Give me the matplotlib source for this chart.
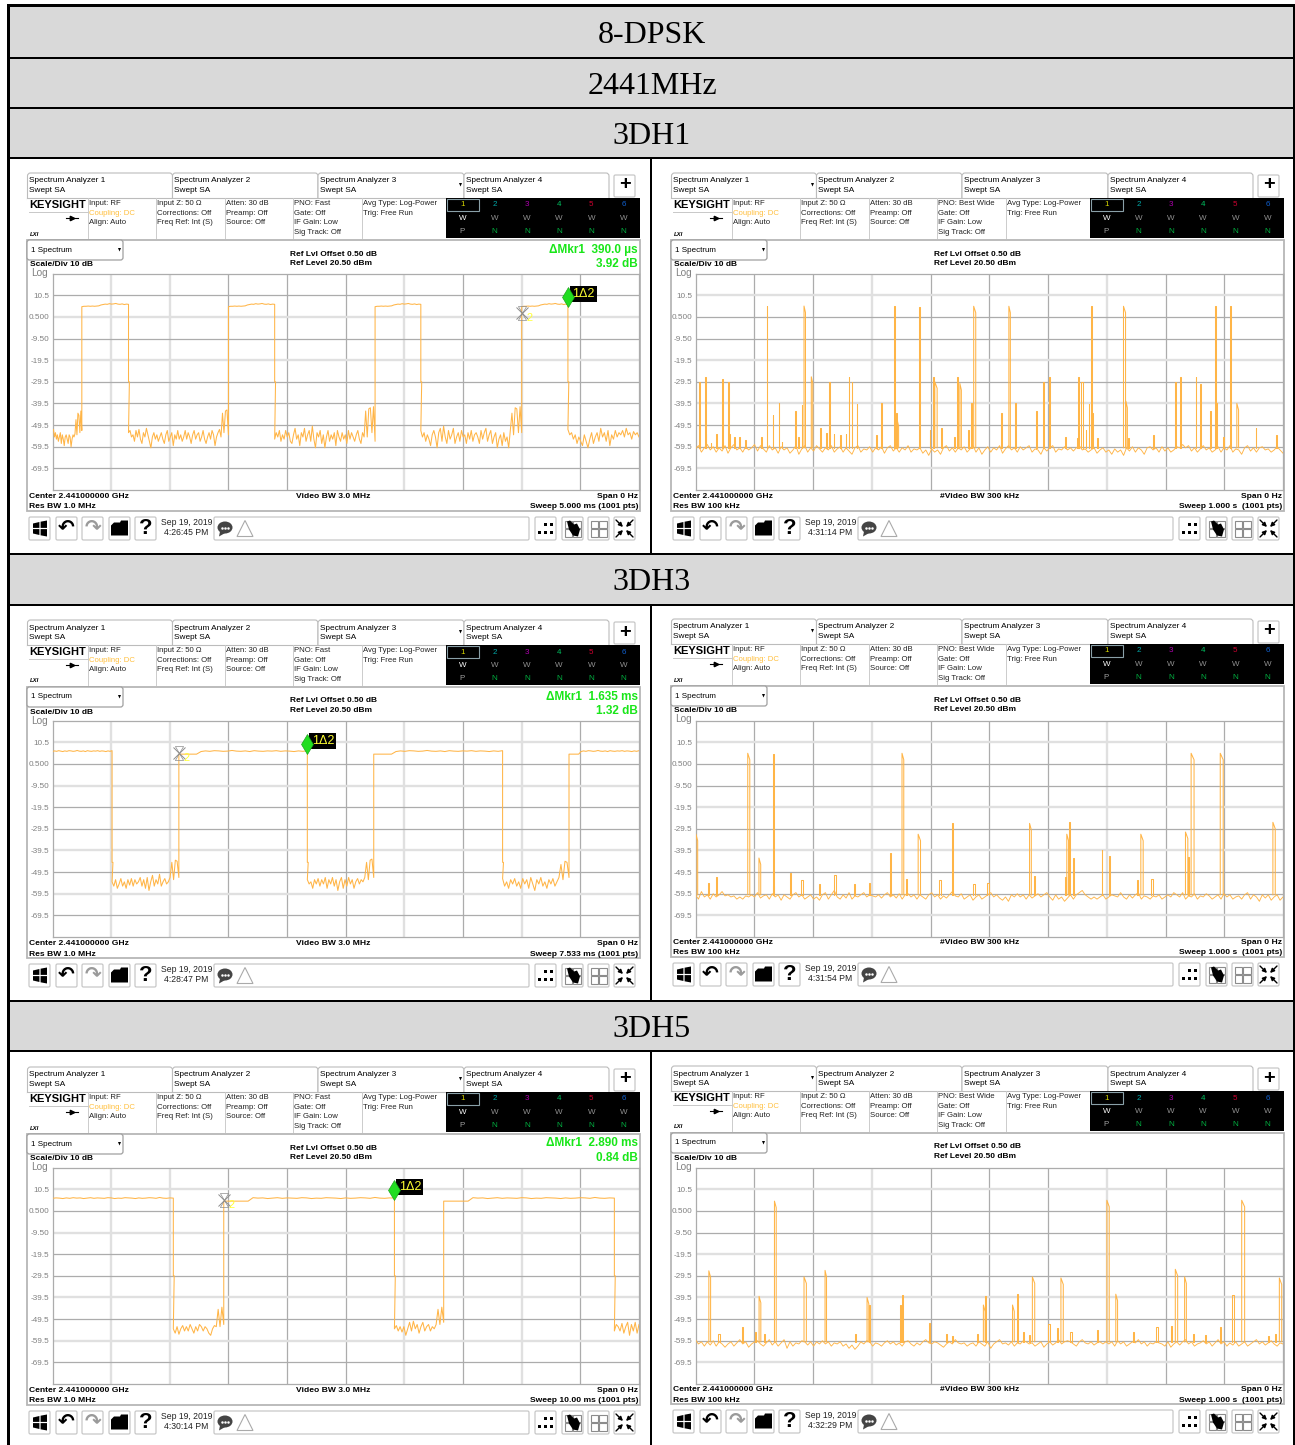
import numpy as np
import matplotlib
matplotlib.use("Agg")
import matplotlib.pyplot as plt
from matplotlib.patches import Rectangle, FancyBboxPatch, Polygon, Ellipse

W, H = 1295, 1445
SANS = "Liberation Sans"
SERIF = "Liberation Serif"

# - Table text - #
HEADERS = ["8-DPSK", "2441MHz", "3DH1", "3DH3", "3DH5"]
TAB_NAMES = ["Spectrum Analyzer 1", "Spectrum Analyzer 2", "Spectrum Analyzer 3", "Spectrum Analyzer 4"]
INFO_COLS = [["Input: RF", "Coupling: DC", "Align: Auto"],
             ["Input Z: 50 \u03a9", "Corrections: Off", "Freq Ref: Int (S)"],
             ["Atten: 30 dB", "Preamp: Off", "Source: Off"],
             ["PNO: Fast", "Gate: Off", "IF Gain: Low", "Sig Track: Off"],
             ["Avg Type: Log-Power", "Trig: Free Run"]]
INFO_COLS_R = [["Input: RF", "Coupling: DC", "Align: Auto"],
               ["Input Z: 50 \u03a9", "Corrections: Off", "Freq Ref: Int (S)"],
               ["Atten: 30 dB", "Preamp: Off", "Source: Off"],
               ["PNO: Best Wide", "Gate: Off", "IF Gain: Low", "Sig Track: Off"],
               ["Avg Type: Log-Power", "Trig: Free Run"]]
YTICK_LABELS = ["10.5", "0.500", "-9.50", "-19.5", "-29.5", "-39.5", "-49.5", "-59.5", "-69.5"]
YTICKS = [10.5, 0.5, -9.5, -19.5, -29.5, -39.5, -49.5, -59.5, -69.5]
CLOCKS = ["4:26:45 PM", "4:31:14 PM", "4:28:47 PM", "4:31:54 PM", "4:30:14 PM", "4:32:29 PM"]
SWEEPS = [5.0, 7.533, 10.0]
SWEEP_TXT = ["Sweep 5.000 ms (1001 pts)", "Sweep 7.533 ms (1001 pts)", "Sweep 10.00 ms (1001 pts)"]
MKR_TIME = ["390.0 \u00b5s", "1.635 ms", "2.890 ms"]
MKR_DB = ["3.92 dB", "1.32 dB", "0.84 dB"]

# - Zero span traces: edges in ms, floor segments in dBm - #
L1_RISE = [0.25, 1.5, 2.75, 4.0]
L1_FALL = [0.648, 1.894, 3.14, 4.394]
L1_TOP = [5.2, 5.4, 5.4, 5.5, 5.4, 5.5, 5.4, 5.5, 5.6, 6.0, 6.2, 6.4, 6.3, 6.6, 6.4, 6.5, 6.7, 6.4, 6.3, 6.5, 6.2, 6.4, 6.3]
L1_LOW = [
    [-52, -51.5, -55, -53, -56, -54, -57, -55, -53, -58, -54, -56, -59, -55, -54, -56, -58, -54, -55, -59.5, -56, -54, -55, -53.5, -47, -54, -44, -45, -53, -43, -52],
    [-53, -52, -55, -54, -57, -52, -55, -51.5, -56, -58, -53, -55, -51, -54, -57, -60, -55, -53, -56, -54, -57, -55, -53, -56, -58, -54, -52, -57, -55, -53, -59, -54, -56, -52, -56, -54, -57, -55, -52, -56, -53, -55, -58, -54, -52, -56, -54, -53, -57, -55, -52, -56, -58, -55, -53, -56, -52, -54, -59, -55, -53, -51.5, -55, -44, -53, -43, -42.5, -54],
    [-56, -53, -55, -52, -57, -54, -56, -52, -55, -53, -57, -58, -54, -51, -56, -54, -59, -53, -55, -51, -57, -54, -52, -57, -50, -56, -60, -53, -55, -52, -58, -54, -60, -55, -52, -57, -54, -56, -53, -59, -52, -55, -57, -53, -56, -54, -58, -52, -56, -53, -55, -57, -54, -52, -56, -58, -53, -55, -43, -55, -42, -41.5, -53, -41, -57],
    [-52, -55, -53, -57, -54, -56, -59, -54, -52, -55, -60, -53, -51, -57, -50, -55, -58, -52, -56, -54, -51, -58, -55, -53, -57, -52, -55, -54, -58, -53, -56, -52, -57, -54, -53, -55, -58, -52, -56, -53, -51, -57, -54, -52, -58, -55, -53, -60, -56, -54, -59, -53, -57, -55, -60, -52, -44, -54, -41.5, -42, -53, -41, -53],
    [-51.5, -54, -53, -56, -54, -58, -55, -57, -59, -54, -57, -60, -56, -53, -58, -55, -53, -57, -51, -55, -53, -57, -52, -59, -54, -56, -52, -55, -53, -54, -52, -55, -51, -54, -53, -56, -52.5, -54, -53, -55],
]
L2_RISE = [1.623, 4.126, 6.634]
L2_FALL = [0.765, 3.273, 5.781]
L2_TOP = [6.2, 6.5, 6.3, 6.6, 6.4, 6.2, 6.5, 6.3, 6.6, 6.5, 6.3, 6.4, 6.7, 6.4, 6.3, 6.5, 6.2, 6.6, 6.4, 6.3, 6.5, 6.4, 6.6, 6.3, 6.5, 6.4, 6.2, 6.5, 6.3, 6.6]
L2_LOW = [
    [-54, -56, -53, -57, -55, -52.5, -56, -54, -57, -53, -55.5, -52.5, -56, -53, -55, -54, -52, -56, -53, -57, -52, -58, -54, -51, -56, -53, -55, -50.5, -56, -54, -52.5, -55, -54, -52, -45, -53, -44, -44.5, -52],
    [-53, -55, -54, -57, -53, -55, -52.5, -56, -53, -55, -52, -57, -53, -55, -52, -56, -53, -58, -54, -52, -57, -53, -56, -52, -55, -53, -57, -54, -52.5, -55, -53, -54, -52, -45, -53, -44, -43.5, -52],
    [-52.5, -56, -54, -57, -53, -55, -52.5, -56, -54, -57, -52.5, -55, -53, -57, -52, -55, -58, -53, -55, -52, -56, -54, -57, -53, -55, -52.5, -56, -54, -52, -46, -53, -44.5, -45, -52],
]
L3_RISE = [2.92, 6.67]
L3_FALL = [2.06, 5.83, 9.58]
L3_TOP = [6.3, 6.5, 6.4, 6.2, 6.5, 6.3, 6.6, 6.4, 6.5, 6.2, 6.4, 6.6, 6.3, 6.5, 6.4, 6.3, 6.6, 6.5, 6.2, 6.4, 6.3, 6.6, 6.5, 6.4, 6.2, 6.5, 6.3, 6.4, 6.6, 6.5, 6.3, 6.7, 6.4, 6.3, 6.5, 6.4]
L3_LOW = [
    [-54, -56, -53, -56.5, -54, -52.5, -55, -53, -55, -52, -54, -56, -53, -55, -52, -53, -55, -53, -54, -56, -57, -54, -52.5, -53, -45, -53, -44, -52],
    [-54, -52.5, -55, -53, -55.5, -53, -57, -54, -51, -55, -50.5, -54, -52, -56, -53, -51, -55, -53, -52, -55, -53, -54, -52, -45, -52, -44, -51],
    [-55, -52, -53, -55, -51.5, -56, -53, -51, -57, -52, -55, -51, -56, -52],
]
MK1_T = [4.394, 3.273, 5.83]
MK1_DB = [9.7, 9.7, 10.2]
MK2_T = [4.0, 1.623, 2.92]
MK2_DB = [2.3, 5.6, 5.6]

# - Gated view traces: burst time ms, peak dBm, width ms - #
R1_T = [121.3, 184.7, 337.7, 380.4, 473.5, 533.4, 672.6, 728.5, 884.2, 910.4,
        6.2, 16.5, 45.5, 55.1, 197.1, 227.4, 260.5, 266.0, 404.5, 407.3, 445.9, 450.0, 592.0, 601.7, 651.3, 656.8, 816.7, 824.3, 851.1, 859.4,
        131.6, 141.3, 170.2, 180.6, 274.3, 315.6, 341.1, 343.2, 469.3, 520.3, 543.7, 579.6, 669.2, 674.0, 732.6, 876.0, 885.6, 921.4,
        17.2, 26.0, 35.2, 44.8, 57.2, 65.5, 74.4, 84.7, 112.3, 146.8, 174.0, 212.2, 222.5, 235.0, 246.7, 255.6, 307.4, 398.4, 417.7, 439.7, 463.8, 953.2, 987.6, 649.0, 664.0, 779.0, 684.0, 629.0, 736.0, 898.0]
R1_H = [5.4, 5.5, 5.4, 5.2, 5.4, 5.4, 5.4, 5.4, 5.4, 5.4,
        -29.5, -27.2, -28, -29.5, -27.2, -29.5, -27.2, -29.5, -27.2, -29.5, -27.2, -30.3, -29.8, -27.2, -27.5, -29.5, -29.5, -27.2, -27.5, -30.3,
        -44.8, -39.5, -42.9, -40.1, -39.7, -39.5, -44, -47, -39.5, -44, -39.5, -42.9, -39.7, -44, -38.5, -42.9, -39.5, -39.5,
        -53.4, -58, -53.4, -57.2, -53.4, -54.9, -54.9, -56.5, -54.9, -57.2, -54.9, -51, -53.2, -53.4, -54.1, -53.4, -54.3, -51.8, -51, -54.9, -51.8, -51, -54.1, -55.7, -51.8, -54.1, -55.5, -54.9, -55.5, -54.9]
R1_W = [1.2, 2.5, 2.0, 2.0, 3.5, 2.5, 1.6, 3.5, 2.0, 1.4,
        1.5, 1.5, 1.5, 1.2, 2.5, 2.0, 1.2, 1.2, 2.0, 4.0, 1.5, 2.5, 1.5, 1.2, 1.5, 2.0, 1.5, 2.0, 1.2, 1.5,
        1.0, 1.2, 1.0, 1.2, 1.0, 2.0, 1.2, 2.5, 2.0, 1.2, 2.0, 1.5, 1.2, 2.0, 2.5, 1.2, 2.0, 3.0,
        1.0, 1.2, 1.0, 1.2, 1.0, 1.2, 1.5, 1.2, 1.0, 1.2, 1.5, 1.5, 1.2, 1.5, 1.5, 1.2, 1.5, 1.2, 1.5, 1.2, 1.5, 1.2, 1.5, 1.5, 1.2, 1.5, 1.2, 1.0, 1.2, 1.0]
R2_T = [88.9, 131.6, 351.5, 843.6, 893.2,
        0.7, 108.0, 330.8, 379.0, 436.0, 568.6, 632.0, 636.0, 642.3, 691.3, 703.0, 758.0, 834.0, 838.0, 982.8,
        21.4, 35.2, 160.6, 179.2, 210.2, 236.4, 295.0, 358.0, 415.0, 496.8, 576.0, 629.0, 751.6, 776.0, 473.0, 270.0, 132.0]
R2_H = [5.4, 5.0, 5.4, 5.4, 5.4,
        -32, -43, -40.5, -32, -27, -27, -32, -26.5, -43, -39.5, -42, -32, -31, -42.5, -26.5,
        -54.5, -52, -50, -53, -55, -51, -54.5, -52.5, -53, -54.5, -51.5, -52, -53, -52.5, -55, -55, -56]
R2_W = [3.5, 2.0, 3.0, 5.0, 5.0,
        3.0, 3.0, 1.5, 4.0, 1.5, 3.0, 3.0, 1.5, 2.0, 1.0, 2.0, 4.0, 4.0, 2.0, 4.0,
        1.5, 1.2, 1.5, 3.0, 2.0, 3.0, 1.5, 2.5, 2.5, 2.0, 2.5, 2.0, 1.5, 2.0, 2.0, 2.0, 2.0]
R3_T = [134.4, 700.2, 929.7,
        22.7, 108.2, 184.7, 220.5, 292.0, 295.0, 350.8, 348.0, 492.8, 490.0, 539.6, 546.5, 573.4, 622.0, 715.4, 816.7, 832.5, 913.9, 993.8,
        38.0, 79.2, 102.0, 115.8, 270.8, 396.9, 425.9, 436.2, 478.9, 556.9, 567.2, 599.6, 615.4, 637.5, 683.0, 745.0, 784.3, 809.8, 846.3, 867.0, 892.5, 974.0, 986.4]
R3_H = [5.0, 5.4, 5.4,
        -27.2, -39, -30, -27, -39.5, -43, -38.5, -43, -39, -43, -43, -38, -30, -30.5, -38, -26.5, -30, -38.5, -30.5,
        -56.2, -53.1, -55.7, -56.5, -56.2, -51.4, -56.5, -57.2, -56.2, -55.7, -56.9, -51.9, -53.7, -55.3, -54.5, -55.7, -53.1, -52.6, -56.5, -56.9, -53.1, -57.2, -56.2]
R3_W = [3.0, 4.0, 5.0,
        3.0, 3.0, 4.0, 2.5, 3.0, 2.0, 2.0, 2.0, 1.5, 3.0, 3.0, 2.0, 4.0, 4.0, 3.0, 4.0, 3.0, 2.0, 4.0,
        3.0, 2.0, 1.5, 2.0, 2.0, 2.5, 1.5, 2.0, 2.0, 2.0, 1.5, 3.0, 2.0, 2.5, 2.0, 1.5, 2.5, 2.0, 2.0, 2.0, 2.5, 2.5, 2.0]

R1_FLOOR = [
    -60.5, -59, -62, -60, -58.5, -61, -59.5, -62, -60, -61.5, -59, -62.5, -60, -58.5, -61, -60, -62, -59.5, -61, -60,
    -58.5, -61.5, -59, -60.5, -62, -59, -61, -60, -62.5, -59.5, -61, -60, -62.5, -61, -59, -63, -60.5, -59, -62, -60,
    -61.5, -59, -60.5, -62, -60, -61, -59, -62, -60.5, -59.5, -62, -60, -61.5, -63, -60, -59, -62, -60.5, -61, -59.5,
    -62, -60, -61, -59.5, -62.5, -60, -59, -61.5, -60, -62, -60, -61, -59, -62, -60.5, -61, -60, -62.5, -61, -63.5,
    -60.5, -62, -61, -63, -60, -59, -61.5, -60, -62, -60, -61, -59.5, -62, -60.5, -59, -62, -60, -63, -61, -59.5,
    -62, -60, -61, -59, -62.5, -60.5, -59, -61, -60, -62, -59.5, -61, -60, -59, -62, -60.5, -61, -63, -60, -61.5,
    -60, -59, -62, -60.5, -61, -59.5, -61, -60, -61.5, -60, -59, -61, -60.5, -62, -61, -60, -62.5, -61, -60, -62,
    -61, -63, -60.5, -62, -61, -63.5, -60, -61.5, -59.5, -62, -60, -61, -63, -60, -59.5, -61, -60, -62, -59.5, -61.5,
    -60, -62, -61, -59.5, -60, -58.5, -60, -59, -61.5, -60, -62, -60.5, -59, -61, -60, -62, -61, -59.5, -62, -60,
    -61, -59, -62, -60.5, -61, -63, -60, -59, -61.5, -60, -62, -60, -59.5, -61, -60.5, -62, -61, -59.5, -61, -62.5,
]
R2_FLOOR = [
    -60, -62, -58.5, -61, -60, -62, -59.5, -61, -60, -58.5, -60.5, -60, -61, -60.5, -62, -61, -62, -60.5, -61, -60,
    -61, -59, -61.5, -60.5, -60, -62, -59.5, -61, -60, -62.5, -60, -61, -62, -60, -59, -61, -60, -62, -61, -60,
    -62, -61, -62.5, -60, -59, -62, -60, -58, -61, -62, -60, -61.5, -59, -62, -60.5, -61, -60, -59, -61, -60,
    -60.5, -61, -60, -61.5, -60, -59, -61, -60, -61.5, -59.5, -62, -60, -59.5, -61, -60, -62, -60, -61, -62, -60,
    -59, -61, -60, -62, -60.5, -61.5, -60, -58.5, -60.5, -61, -59.5, -62, -61, -60, -62.5, -61, -60, -62, -61, -60,
    -59, -61, -60, -61.5, -62.5, -61, -63, -60, -61, -59.5, -61, -60, -62, -60, -61.5, -60.5, -59.5, -61, -60, -59,
    -61, -62.5, -60, -62, -61, -63, -61.5, -60, -62, -60, -59, -58, -60, -61, -62, -61, -62, -61, -60, -62,
    -61, -60, -60.5, -61, -59, -61, -62, -60, -61.5, -60, -59, -62, -60.5, -61, -62, -60.5, -61, -60, -62, -61,
    -60, -61, -59, -60, -61, -59, -62, -60.5, -61, -59.5, -62, -60.5, -61, -59.5, -60.5, -62, -61, -60, -62, -59.5,
    -61, -60, -62, -61, -60.5, -62, -60, -59, -62, -60, -61, -63, -60, -61.5, -60, -62.5, -61, -60, -62.5, -61,
]
R3_FLOOR = [
    -59, -61, -60, -62, -60, -61.5, -59.5, -62, -60, -61, -62.5, -61, -60, -62, -60.5, -59, -61, -60, -62.5, -61,
    -60, -59.5, -61, -62, -60.5, -59, -61.5, -60, -62, -60.5, -59, -63, -60, -62, -60.5, -61, -59.5, -60, -61.5, -60,
    -62, -60, -61, -59.5, -61, -60, -62, -60.5, -61, -60, -62, -61, -63, -61.5, -63.5, -62, -60, -61, -59.5, -60,
    -62, -60.5, -61, -62, -60.5, -59.5, -61, -60, -61.5, -60.5, -62, -60, -59.5, -61, -62, -60.5, -61.5, -60, -59, -60.5,
    -61, -60, -60.5, -61.5, -62.5, -61, -60, -61, -59, -60.5, -61, -60.5, -62, -61, -60.5, -62, -60, -61, -62, -60,
    -63, -61, -60, -59, -61, -60.5, -61.5, -60, -62, -60.5, -61, -59.5, -60, -61, -60.5, -62, -61, -60, -62.5, -61,
    -60, -61.5, -60.5, -59, -61, -60, -59.5, -60, -61, -62, -60, -59, -60.5, -61, -60, -61.5, -60.5, -60, -61, -60,
    -61, -60, -62, -59.5, -61, -60, -62, -61, -60, -60.5, -59, -61, -60, -62, -60.5, -61, -60, -60.5, -61, -62,
    -60, -62.5, -61, -60, -61.5, -60, -59, -61, -60, -62, -61, -60.5, -59.5, -61, -60, -62, -60.5, -59, -61, -60,
    -62, -60.5, -61.5, -60, -62, -61, -60, -62, -61, -60, -59, -61, -60, -61.5, -60.5, -59.5, -61, -62, -60.5, -61,
]

DARK, LIGHT = "#acacac", "#e0e0e0"
TRACE = "#ffb547"
VSTYLE_L = "LLDDDLDLD"
VSTYLE_R = "DDLDDDLDD"
HSTYLE_L = ["DLDLDDDDD", "LDLDDLDLD", "LDLDDLDLD"]
HSTYLE_R = "LDDLDLDDL"


def px(size):
    return size * 72. / 100.


def txt(ax, x, y, s, size=8.3, color="black", weight="normal", ha="left", family=SANS):
    ax.text(x, y, s, fontsize=px(size), color=color, fontweight=weight, ha=ha, va="center", family=family)


def rect(ax, x0, y0, x1, y1, fc="none", ec="none", lw=0., z=1):
    ax.add_patch(Rectangle((x0, y0), x1 - x0, y1 - y0, fc=fc, ec=ec, lw=lw, zorder=z))


def button(ax, x0, y0, x1, y1):
    ax.add_patch(FancyBboxPatch((x0, y0), x1 - x0, y1 - y0, boxstyle="round,pad=0,rounding_size=1.5",
                                fc="white", ec="#c8c8c8", lw=0.9))


def draw_table(ax):
    cells = [(7, 57), (59, 107), (109, 157), (555, 604), (1002, 1050)]
    for (y0, y1), name in zip(cells, HEADERS):
        rect(ax, 10, y0, 1293, y1, fc="#d9d9d9")
        txt(ax, 652, (y0 + y1) / 2. + 3.5, name, size=32, ha="center", family=SERIF)
    rect(ax, 7, 4, 1296, 7, fc="black", z=3)
    rect(ax, 7, 4, 10, H, fc="black", z=3)
    rect(ax, 1293, 4, 1296, H, fc="black", z=3)
    for y in [57, 107, 157, 553, 604, 1000, 1050]:
        rect(ax, 7, y, 1296, y + 2.2, fc="black", z=3)
    for y0, y1 in [(159, 553), (606, 1000), (1052, H)]:
        rect(ax, 650, y0, 652, y1, fc="black", z=3)


def draw_chrome(ax, dx, dy, right, row, clock):
    # tabs
    edges = [27.5, 172.5, 318, 464, 609]
    for i, name in enumerate(TAB_NAMES):
        ax.add_patch(FancyBboxPatch((edges[i] + dx, 173 + dy), edges[i + 1] - edges[i], 30,
                                    boxstyle="round,pad=0,rounding_size=3", fc="white", ec="#bcbcbc", lw=0.8))
        txt(ax, edges[i] + 1.5 + dx, 181 + dy, name)
        txt(ax, edges[i] + 1.5 + dx, 190.5 + dy, "Swept SA")
    shift = dx - 292 if right else 0
    ax.add_patch(Polygon([(x + shift, y + dy) for x, y in [(459, 183), (462, 183), (460.5, 186.5)]], fc="black"))
    button(ax, 614 + dx, 175 + dy, 635 + dx, 197 + dy)
    txt(ax, 624.5 + dx, 185 + dy, "+", size=20, weight="bold", ha="center")
    # info bar
    rect(ax, 27 + dx, 198 + dy, 639 + dx, 238 + dy, fc="white", z=2)
    ax.plot([27 + dx, 446 + dx], [198 + dy, 198 + dy], color="#bcbcbc", lw=0.8, zorder=3)
    ax.text(29 + dx, 205 + dy, "KEYSIGHT", fontsize=px(11.1), fontweight="bold", family=SANS, va="center", zorder=4)
    ax.plot([29 + dx, 88 + dx], [212 + dy, 212 + dy], color="#c8c8c8", lw=0.7, zorder=3)
    ax.plot([66 + dx, 78 + dx], [218 + dy, 218 + dy], color="black", lw=0.8, zorder=3)
    ax.plot([72 + dx], [218 + dy], marker=">", ms=3.2, color="black", zorder=3)
    ax.text(30 + dx, 234 + dy, "LXI", fontsize=px(6), fontstyle="italic", fontweight="bold", family=SANS, va="center", zorder=4)
    cols = [89, 157, 226, 294, 363]
    info = INFO_COLS_R if right else INFO_COLS
    for x, lines in zip(cols, info):
        ax.plot([x - 1 + dx, x - 1 + dx], [198 + dy, 238 + dy], color="#cccccc", lw=0.7, zorder=3)
        for j, s in enumerate(lines):
            c = "#ffc040" if s.startswith("Coupling") else "#222222"
            ax.text(x + dx, 203.5 + j * 9.7 + dy, s, fontsize=px(7.8), color=c, family=SANS, va="center", zorder=4)
    # trace box
    rect(ax, 446 + dx, 198 + dy, 640 + dx, 238 + dy, fc="black", z=3)
    rect(ax, 447 + dx, 199 + dy, 479 + dx, 211 + dy, ec="#8aa0a8", lw=0.8, z=4)
    colours = ["#d8d800", "#00a8a8", "#b000b0", "#00c060", "#d00030", "#1060d0"]
    for i, c in enumerate(colours):
        x = 462.5 + i * 32.2 + dx
        ax.text(x, 205 + dy, str(i + 1), color=c, fontsize=px(8), ha="center", va="center", family=SANS, zorder=5)
        ax.text(x, 218.5 + dy, "W", color="white" if i == 0 else "#909090", fontsize=px(8), ha="center", va="center", family=SANS, zorder=5)
        ax.text(x, 231.5 + dy, "P" if i == 0 else "N", color="#a0a0a0" if i == 0 else "#00b040", fontsize=px(8), ha="center", va="center", family=SANS, zorder=5)
    # measurement frame
    rect(ax, 27 + dx, 239.5 + dy, 639.5 + dx, 511 + dy, fc="white", ec="#b6b6b6", lw=1.3, z=0.5)
    ax.add_patch(FancyBboxPatch((27 + dx, 240 + dy), 96, 20, boxstyle="round,pad=0,rounding_size=2.5", fc="white", ec="#a0a0a0", lw=0.9, zorder=1))
    txt(ax, 31 + dx, 250 + dy, "1 Spectrum", size=8)
    ax.add_patch(Polygon([(118 + dx, 248 + dy), (121 + dx, 248 + dy), (119.5 + dx, 251.5 + dy)], fc="black"))
    txt(ax, 30 + dx, 265 + dy, "Scale/Div 10 dB", size=8.4, weight="bold")
    txt(ax, 31 + dx, 273.5 + dy, "Log", size=10, color="#808080")
    txt(ax, 290.5 + dx, 254 + dy, "Ref Lvl Offset 0.50 dB", size=8.4, weight="bold")
    txt(ax, 290.5 + dx, 263.5 + dy, "Ref Level 20.50 dBm", size=8.4, weight="bold")
    if not right:
        txt(ax, 638 + dx, 249.5 + dy, "\u0394Mkr1  " + MKR_TIME[row], size=11.8, color="#19e619", weight="bold", ha="right")
        txt(ax, 638 + dx, 264 + dy, MKR_DB[row], size=11.8, color="#19e619", weight="bold", ha="right")
    txt(ax, 29 + dx, 496.5 + dy, "Center 2.441000000 GHz", size=8.45, weight="bold")
    txt(ax, 29 + dx, 507 + dy, "Res BW 100 kHz" if right else "Res BW 1.0 MHz", size=8.45, weight="bold")
    txt(ax, 296 + dx, 496.5 + dy, "#Video BW 300 kHz" if right else "Video BW 3.0 MHz", size=8.45, weight="bold")
    txt(ax, 638 + dx, 496.5 + dy, "Span 0 Hz", size=8.45, weight="bold", ha="right")
    sweep = "Sweep 1.000 s  (1001 pts)" if right else SWEEP_TXT[row]
    txt(ax, 638 + dx, 507 + dy, sweep, size=8.45, weight="bold", ha="right")
    draw_toolbar(ax, dx, dy, clock)


def draw_toolbar(ax, dx, dy, clock):
    y0, y1 = 517 + dy, 540 + dy
    ym = (y0 + y1) / 2.
    for a, b in [(29, 50), (56, 77), (82, 103), (109, 130), (135, 156), (535, 556), (562, 583), (588, 609), (614, 635)]:
        button(ax, a + dx, y0, b + dx, y1)
    # windows logo
    cx = 40 + dx
    ax.add_patch(Polygon([(cx - 7, ym - 5), (cx - 0.6, ym - 6.5), (cx - 0.6, ym - 0.6), (cx - 7, ym - 0.6)], fc="black", zorder=3))
    ax.add_patch(Polygon([(cx + 0.6, ym - 6.8), (cx + 7, ym - 8), (cx + 7, ym - 0.6), (cx + 0.6, ym - 0.6)], fc="black", zorder=3))
    ax.add_patch(Polygon([(cx - 7, ym + 0.6), (cx - 0.6, ym + 0.6), (cx - 0.6, ym + 6.5), (cx - 7, ym + 5)], fc="black", zorder=3))
    ax.add_patch(Polygon([(cx + 0.6, ym + 0.6), (cx + 7, ym + 0.6), (cx + 7, ym + 8), (cx + 0.6, ym + 6.8)], fc="black", zorder=3))
    ax.text(66.5 + dx, ym - 1, "\u21b6", fontsize=px(20), fontweight="bold", ha="center", va="center", family="DejaVu Sans", zorder=3)
    ax.text(92.5 + dx, ym - 1, "\u21b7", fontsize=px(20), color="#9a9a9a", fontweight="bold", ha="center", va="center", family="DejaVu Sans", zorder=3)
    ax.add_patch(Polygon([(111 + dx, ym + 7), (111 + dx, ym - 3), (114 + dx, ym - 6), (120 + dx, ym - 6), (121 + dx, ym - 8),
                          (128 + dx, ym - 8), (128 + dx, ym + 7)], fc="black", zorder=3))
    ax.text(145.5 + dx, ym, "?", fontsize=px(22), fontweight="bold", ha="center", va="center", family=SANS, zorder=3)
    txt(ax, 186.5 + dx, 522.5 + dy, "Sep 19, 2019", size=8.6, ha="center", color="#222222")
    txt(ax, 186.5 + dx, 532.5 + dy, clock, size=8.6, ha="center", color="#222222")
    ax.add_patch(FancyBboxPatch((214 + dx, y0), 315, 23, boxstyle="round,pad=0,rounding_size=1.5", fc="white", ec="#c8c8c8", lw=0.9))
    ax.add_patch(Ellipse((225 + dx, ym - 1), 15, 12, fc="#444444", ec="none", zorder=3))
    ax.add_patch(Polygon([(220 + dx, ym + 3), (226 + dx, ym + 4), (219 + dx, ym + 8)], fc="#444444", zorder=3))
    ax.plot([222 + dx, 225 + dx, 228 + dx], [ym - 1] * 3, ls="none", marker="o", ms=0.8, color="white", zorder=4)
    ax.add_patch(Polygon([(237 + dx, ym + 8), (245 + dx, ym - 8), (253 + dx, ym + 8)], fc="white", ec="#aaaaaa", lw=0.8, zorder=3))
    # grid dots
    mx = 545.5 + dx
    for gx, gy in [(0, -1), (1, -1), (-1, 1), (0, 1), (1, 1)]:
        rect(ax, mx + gx * 6 - 1.9, ym + gy * 4 - 1.9, mx + gx * 6 + 1.9, ym + gy * 4 + 1.9, fc="black", z=3)
    # quad boxes
    for qx in [572.5 + dx, 598.5 + dx]:
        for a, b in [(-8, -8), (0.5, -8), (-8, 0.5), (0.5, 0.5)]:
            rect(ax, qx + a, ym + b, qx + a + 7.5, ym + b + 7.5, fc="white", ec="#8c8c8c", lw=0.8, z=3)
    ax.add_patch(Polygon([(567 + dx, ym - 7), (570 + dx, ym - 8), (574 + dx, ym - 4), (577 + dx, ym - 5), (580 + dx, ym + 1), (578 + dx, ym + 8),
                          (573 + dx, ym + 7), (569 + dx, ym + 1)], fc="black", zorder=4))
    # collapse arrows
    cx = 624.5 + dx
    for sx, sy in [(-1, -1), (1, -1), (-1, 1), (1, 1)]:
        ax.annotate("", xy=(cx + 1.5 * sx, ym + 1.5 * sy), xytext=(cx + 8.5 * sx, ym + 8.5 * sy),
                    arrowprops=dict(arrowstyle="-|>", lw=1.0, color="black", mutation_scale=6, shrinkA=0, shrinkB=0), zorder=4)


def new_plot(fig, x0, x1, y0, y1, xmax, vstyle, hstyle):
    a = fig.add_axes([x0 / W, 1 - y1 / H, (x1 - x0) / W, (y1 - y0) / H], zorder=2)
    a.set_xlim(0, xmax); a.set_ylim(-79.5, 20.5)
    a.set_xticks([])
    a.set_yticks(YTICKS); a.set_yticklabels(YTICK_LABELS, fontsize=px(8.2), color="#808080", family=SANS)
    a.tick_params(axis="y", length=0, pad=2)
    for s in a.spines.values():
        s.set_color("#acacac"); s.set_linewidth(0.9)
    for i in range(9):
        st = vstyle[i]
        a.axvline(xmax * (i + 1) / 10., color=DARK if st == "D" else LIGHT, lw=0.9 if st == "D" else 1.7, zorder=1)
    for y, st in zip(YTICKS, hstyle):
        a.axhline(y, color=DARK if st == "D" else LIGHT, lw=0.9 if st == "D" else 1.7, zorder=1)
    return a


def pulse_trace(xmax, rises, falls, lows, top, shelf, mid):
    # walk the low/high states in time order
    xs, ys = [], []
    events = sorted([(t, "r") for t in rises] + [(t, "f") for t in falls])
    t0 = 0.
    state = "h" if events[0][1] == "f" else "l"
    low_i = 0
    for t, kind in events + [(xmax, "e")]:
        if state == "h":
            n = len(top)
            xs += list(np.linspace(t0, t, n)); ys += list(top)
            if shelf is not None and t0 > 0:
                cut = max(2, n // 6)
                ys[-n:-n + cut] = [shelf] * cut
            if kind == "f":
                xs += [t, t + xmax * 0.0015]; ys += [mid, mid]
            state = "l"
        else:
            seg = lows[low_i]; low_i += 1
            xs += list(np.linspace(t0, t, len(seg))); ys += list(seg)
            state = "h"
        t0 = t
    return xs, ys


def bursts(a, times, highs, widths, floor, xmax):
    a.plot(np.linspace(0, xmax, len(floor)), floor, color=TRACE, lw=0.65, zorder=3)
    for t, h, w in zip(times, highs, widths):
        a.plot([t, t, t + w, t + w], [-60, h, h - (3 if h > -50 and w > 2 else 0), -60], color=TRACE, lw=0.75, zorder=3)


def markers(a, t1, db1, t2, db2):
    a.plot([t2], [db2], marker="x", ms=8.5, mew=0.7, color="#8c8c8c", clip_on=False, zorder=6)
    a.plot([t2], [db2], marker=[(-1, -1.7), (1, -1.7), (-1, 1.7), (1, 1.7), (-1, -1.7)], ms=10, mew=0.5, mfc="none", color="#8c8c8c", clip_on=False, zorder=6)
    a.annotate("2", (t2, db2), xytext=(8, -5), textcoords="offset pixels", color="#ffff33", fontsize=px(11),
               family=SANS, ha="center", va="center", zorder=7)
    a.annotate("1\u03942", (t1, db1), xytext=(15.5, 3), textcoords="offset pixels", color="#ffff33", fontsize=px(12.5),
               family=SANS, ha="center", va="center", zorder=7, annotation_clip=False,
               bbox=dict(boxstyle="square,pad=0.18", fc="black", ec="none"))
    a.plot([t1], [db1], marker="d", ms=10.5, mfc="#22dd22", mec="#119911", mew=0.4, clip_on=False, zorder=8)


def create_figure():
    fig = plt.figure(figsize=(W / 100., H / 100.), dpi=100)
    ax = fig.add_axes([0, 0, 1, 1], zorder=1); ax.set_axis_off()
    ax.set_xlim(0, W); ax.set_ylim(H, 0)
    draw_table(ax)

    left = [(L1_RISE, L1_FALL, L1_LOW, L1_TOP, None, -29.5), (L2_RISE, L2_FALL, L2_LOW, L2_TOP, 5.0, -45.), (L3_RISE, L3_FALL, L3_LOW, L3_TOP, 5.0, -29.5)]
    right = [(R1_T, R1_H, R1_W, R1_FLOOR), (R2_T, R2_H, R2_W, R2_FLOOR), (R3_T, R3_H, R3_W, R3_FLOOR)]
    for row in range(3):
        dy = 447 * row
        # - Left panel - #
        draw_chrome(ax, 0, dy, False, row, CLOCKS[2 * row])
        a = new_plot(fig, 52.5, 639, 273.6 + dy, 490 + dy, SWEEPS[row], VSTYLE_L, HSTYLE_L[row])
        rises, falls, lows, top, shelf, mid = left[row]
        xs, ys = pulse_trace(SWEEPS[row], rises, falls, lows, top, shelf, mid)
        a.plot(xs, ys, color=TRACE, lw=0.75, zorder=3)
        markers(a, MK1_T[row], MK1_DB[row], MK2_T[row], MK2_DB[row])
        # - Right panel - #
        cdy = dy - 1 if row else dy
        draw_chrome(ax, 644, cdy, True, row, CLOCKS[2 * row + 1])
        b = new_plot(fig, 695.5, 1283, 273.6 + dy, 490 + dy, 1000., VSTYLE_R, HSTYLE_R)
        t, h, w, floor = right[row]
        bursts(b, t, h, w, floor, 1000.)

    fig.savefig("out.png", dpi=100)


if __name__ == "__main__":
    create_figure()
